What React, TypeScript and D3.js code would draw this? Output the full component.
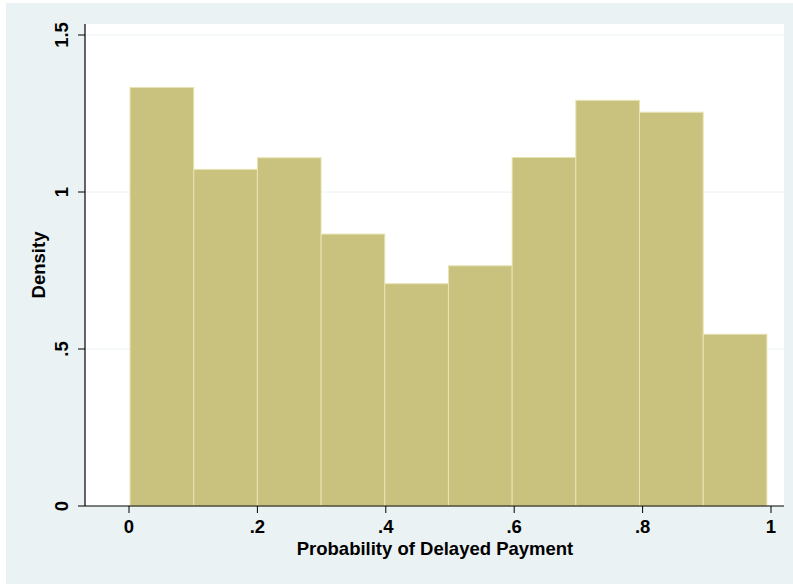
import React from "react";
import * as d3 from "d3";

const binStart = 0.0016;
const binWidth = 0.0992;
const densities = [1.333, 1.072, 1.109, 0.866, 0.708, 0.765, 1.110, 1.292, 1.254, 0.547];
const xTicks = [0, 0.2, 0.4, 0.6, 0.8, 1];
const yTicks = [0, 0.5, 1, 1.5];
const xTitle = "Probability of Delayed Payment";
const yTitle = "Density";

const fmt = (v: number) => (v === 0 ? "0" : v < 1 ? String(v).replace(/^0/, "") : String(v));

export default function App() {
  const W = 793, H = 584;
  const plot = { left: 85, right: 784, top: 24, bottom: 506 };
  const x = d3.scaleLinear().domain([0, 1]).range([129, 771]);
  const y = d3.scaleLinear().domain([0, 1.5]).range([506, 35]);
  const font = "'Liberation Sans', Arial, sans-serif";
  const fs = 18.5;
  return (
    <svg width={W} height={H} style={{ position: "absolute", left: 0, top: 0 }}>
      <rect x={0} y={0} width={W} height={H} fill="#ffffff" />
      <rect x={6} y={3} width={W - 6} height={H - 3} fill="#eaf2f3" />
      <rect x={plot.left} y={plot.top} width={plot.right - plot.left} height={plot.bottom - plot.top} fill="#ffffff" />
      {yTicks.filter(t => t > 0).map(t => (
        <line key={"g" + t} x1={plot.left} x2={plot.right} y1={y(t)} y2={y(t)} stroke="#eaf2f3" strokeWidth={1} />
      ))}
      {densities.map((d, i) => {
        const x0 = x(binStart + i * binWidth);
        const x1 = x(binStart + (i + 1) * binWidth);
        return (
          <rect key={i} x={x0} y={y(d)} width={x1 - x0} height={y(0) - y(d)}
            fill="#c9c27f" stroke="#e8e4b4" strokeWidth={1} />
        );
      })}
      <line x1={plot.left} x2={plot.left} y1={plot.top} y2={plot.bottom} stroke="#000" strokeWidth={1.2} />
      <line x1={plot.left} x2={plot.right} y1={plot.bottom} y2={plot.bottom} stroke="#000" strokeWidth={1.2} />
      {yTicks.map(t => (
        <g key={"y" + t}>
          <line x1={plot.left - 7} x2={plot.left} y1={y(t)} y2={y(t)} stroke="#000" strokeWidth={1} />
          <text transform={`translate(68,${y(t)}) rotate(-90)`} textAnchor="middle" fontFamily={font}
            fontSize={fs} fontWeight="bold" fill="#000">{fmt(t)}</text>
        </g>
      ))}
      {xTicks.map(t => (
        <g key={"x" + t}>
          <line x1={x(t)} x2={x(t)} y1={plot.bottom} y2={plot.bottom + 7} stroke="#000" strokeWidth={1} />
          <text x={x(t)} y={533} textAnchor="middle" fontFamily={font} fontSize={fs} fontWeight="bold" fill="#000">{fmt(t)}</text>
        </g>
      ))}
      <text x={435} y={555} textAnchor="middle" fontFamily={font} fontSize={fs} fontWeight="bold" fill="#000">{xTitle}</text>
      <text transform={`translate(45,265) rotate(-90)`} textAnchor="middle" fontFamily={font} fontSize={fs}
        fontWeight="bold" fill="#000">{yTitle}</text>
    </svg>
  );
}
